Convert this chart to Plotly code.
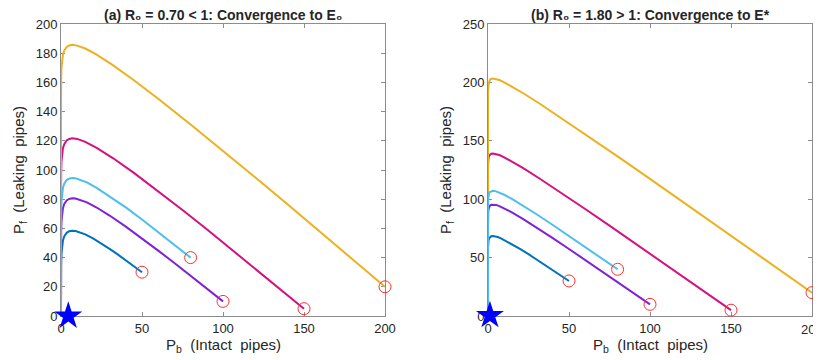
import plotly.graph_objects as go

# ---------------- data ----------------
# Panel (a): R0 = 0.70 < 1
a_blue_x = [50, 45, 40, 35, 30, 25, 20, 15, 12, 9, 7, 5, 3.5, 2, 1.2, 0.6, 0.3, 0.1, 0.03, 0.005, 0]
a_blue_y = [30, 34.2, 38.2, 42.2, 46.0, 49.6, 53.0, 55.9, 57.25, 58.2, 58.4, 58.0, 57.0, 54.5, 51.7, 47.4, 42.9, 35.4, 27.1, 12, 0]

a_purple_x = [100, 90, 80, 70, 60, 50, 40, 30, 22, 16, 12, 9, 7, 5, 3.5, 2, 1.2, 0.6, 0.3, 0.1, 0.03, 0.005, 0]
a_purple_y = [10, 18.9, 27.6, 36.3, 44.8, 53.2, 61.2, 68.8, 74.3, 77.8, 79.6, 80.5, 80.7, 80.2, 79.2, 76.7, 73.9, 69.6, 65.0, 57.6, 49.2, 35, 0]

a_magenta_x = [150, 135, 120, 105, 90, 75, 60, 45, 32, 22, 15, 10, 7, 5, 3.5, 2, 1.2, 0.6, 0.3, 0.1, 0.03, 0.005, 0]
a_magenta_y = [5, 18.75, 32.4, 46.0, 59.4, 72.6, 85.5, 98.0, 108.2, 115.2, 119.3, 121.3, 121.7, 121.3, 120.2, 117.75, 114.9, 110.7, 106.1, 98.6, 90.2, 77.7, 0]

a_yellow_x = [200, 180, 160, 140, 120, 100, 80, 60, 45, 32, 22, 15, 10, 7, 5, 3.5, 2, 1.2, 0.6, 0.3, 0.1, 0.03, 0.005, 0]
a_yellow_y = [20, 38.9, 57.6, 76.3, 94.8, 113.2, 131.2, 148.8, 161.5, 171.8, 179.0, 183.2, 185.2, 185.7, 185.3, 184.3, 181.8, 179.0, 174.7, 170.2, 162.7, 154.3, 141.8, 0]

a_cyan_x = [80, 70, 60, 50, 40, 30, 22, 16, 12, 9, 7, 5, 3.5, 2, 1.2, 0.6, 0.3, 0.1, 0.03, 0.005, 0]
a_cyan_y = [40, 48.9, 57.6, 66.1, 74.4, 82.1, 87.8, 91.5, 93.4, 94.3, 94.5, 94.1, 93.1, 90.6, 87.8, 83.6, 79.0, 71.5, 63.2, 50.6, 0]

a_start_x = [50, 100, 150, 200, 80]
a_start_y = [30, 10, 5, 20, 40]
a_eq_x = [4.5]
a_eq_y = [0]

# Panel (b): R0 = 1.80 > 1
b_blue_x = [50, 45, 40, 35, 30, 25, 20, 15, 11, 8, 6, 4.5, 3, 2, 1.2, 0.7, 0.35, 0.15, 0.05, 0.01, 0.001, 0]
b_blue_y = [30, 34.7, 39.3, 43.9, 48.5, 52.9, 57.25, 61.4, 64.5, 66.5, 67.6, 68.3, 68.56, 68.3, 67.6, 66.5, 64.8, 62.4, 59.2, 54.4, 47.6, 0]

b_purple_x = [100, 90, 80, 70, 60, 50, 40, 30, 22, 15, 10, 7, 5, 3, 2, 1.2, 0.7, 0.35, 0.15, 0.05, 0.01, 0.001, 0]
b_purple_y = [10, 19.6, 29.1, 38.6, 48.1, 57.4, 66.65, 75.7, 82.7, 88.5, 92.2, 94.1, 95.1, 95.5, 95.3, 94.5, 93.4, 91.7, 89.3, 86.15, 81.4, 74.5, 0]

b_magenta_x = [150, 135, 120, 105, 90, 75, 60, 45, 32, 22, 15, 10, 7, 5, 3, 2, 1.2, 0.7, 0.35, 0.15, 0.05, 0.01, 0.001, 0]
b_magenta_y = [5, 19.6, 34.1, 48.6, 63.05, 77.4, 91.6, 105.7, 117.5, 126.3, 132.1, 135.9, 137.8, 138.8, 139.2, 139.0, 138.3, 137.15, 135.4, 133.1, 129.9, 125.1, 118.2, 0]

b_yellow_x = [200, 180, 160, 140, 120, 100, 80, 60, 45, 32, 22, 15, 10, 7, 5, 3, 2, 1.2, 0.7, 0.35, 0.15, 0.05, 0.01, 0.001, 0]
b_yellow_y = [20, 39.6, 59.1, 78.6, 98.1, 117.4, 136.65, 155.7, 169.7, 181.7, 190.5, 196.3, 200.1, 202.0, 203.0, 203.4, 203.2, 202.4, 200.3, 198.6, 196.25, 193.1, 188.3, 181.4, 0]

b_cyan_x = [80, 70, 60, 50, 40, 30, 22, 15, 10, 7, 5, 3, 2, 1.2, 0.7, 0.35, 0.15, 0.05, 0.01, 0.001, 0]
b_cyan_y = [40, 49.6, 59.1, 68.6, 77.9, 87.1, 94.1, 100.0, 103.8, 105.7, 106.7, 107.15, 106.9, 106.2, 105.1, 103.35, 101.0, 97.8, 93.0, 86.1, 0]

b_start_x = [50, 100, 150, 200, 80]
b_start_y = [30, 10, 5, 20, 40]
b_eq_x = [1.2]
b_eq_y = [0.5]

x_ticks = [0, 50, 100, 150, 200]
a_y_ticks = [0, 20, 40, 60, 80, 100, 120, 140, 160, 180, 200]
b_y_ticks = [0, 50, 100, 150, 200, 250]

titles = ["(a) R₀ = 0.70 < 1: Convergence to E₀", "(b) R₀ = 1.80 > 1: Convergence to E*"]
x_label = "P<sub>b</sub>  (Intact  pipes)"
y_label = "P<sub>f</sub>  (Leaking  pipes)"

c_blue = "#0072BD"
c_purple = "#7E22D8"
c_magenta = "#D4117F"
c_yellow = "#EDB120"
c_cyan = "#4DBEEE"

# ---------------- figure ----------------
fig = go.Figure()

panels = [
    ("x", "y", [(a_blue_x, a_blue_y, c_blue), (a_purple_x, a_purple_y, c_purple),
                (a_magenta_x, a_magenta_y, c_magenta), (a_yellow_x, a_yellow_y, c_yellow),
                (a_cyan_x, a_cyan_y, c_cyan)], a_start_x, a_start_y, a_eq_x, a_eq_y),
    ("x2", "y2", [(b_blue_x, b_blue_y, c_blue), (b_purple_x, b_purple_y, c_purple),
                  (b_magenta_x, b_magenta_y, c_magenta), (b_yellow_x, b_yellow_y, c_yellow),
                  (b_cyan_x, b_cyan_y, c_cyan)], b_start_x, b_start_y, b_eq_x, b_eq_y),
]

for xa, ya, curves, sx, sy, ex, ey in panels:
    for cx, cy, col in curves:
        fig.add_trace(go.Scatter(x=cx, y=cy, mode="lines", xaxis=xa, yaxis=ya,
                                 line=dict(color=col, width=2), showlegend=False,
                                 hoverinfo="skip"))
    fig.add_trace(go.Scatter(x=sx, y=sy, mode="markers", xaxis=xa, yaxis=ya,
                             marker=dict(symbol="circle-open", size=12,
                                         color="#FF3030", line=dict(width=1)),
                             showlegend=False, cliponaxis=False, hoverinfo="skip"))
    fig.add_trace(go.Scatter(x=ex, y=ey, mode="markers", xaxis=xa, yaxis=ya,
                             marker=dict(symbol="star", size=21, color="#0000FF",
                                         line=dict(width=0)),
                             showlegend=False, cliponaxis=False, hoverinfo="skip"))

# The page body has an 8px margin; figure pixel = page pixel - 8
OFF = 8
W, H = 821 - OFF, 360 - OFF


def fx(p):
    return (p - OFF) / W


def fy(p):
    return 1 - (p - OFF) / H


tick_font = dict(family="Liberation Sans, Arial", size=13, color="#262626")
axis_common = dict(showgrid=False, zeroline=False, showline=True, linecolor="#8C8C8C",
                   linewidth=1, mirror="ticks", ticks="inside", ticklen=4,
                   tickcolor="#8C8C8C", tickfont=tick_font,
                   layer="below traces", automargin=False)

yd = [fy(316), fy(24)]
fig.update_layout(
    width=W, height=H, margin=dict(l=0, r=0, t=0, b=0, autoexpand=False),
    paper_bgcolor="white", plot_bgcolor="white",
    xaxis=dict(domain=[fx(61), fx(385)], range=[0, 200], tickvals=x_ticks, anchor="y", **axis_common),
    yaxis=dict(domain=yd, range=[0, 200], tickvals=a_y_ticks, anchor="x", **axis_common),
    xaxis2=dict(domain=[fx(488), fx(812)], range=[0, 200], tickvals=x_ticks, anchor="y2", **axis_common),
    yaxis2=dict(domain=yd, range=[0, 250], tickvals=b_y_ticks, anchor="x2", **axis_common),
)

# last tick label of panel (b) sits at the page edge; plotly drops it, so draw it as text
fig.add_annotation(x=x_ticks[-1], xref="x2", y=fy(329), yref="paper", text=str(x_ticks[-1]),
                   showarrow=False, font=tick_font, xanchor="center", yanchor="middle")

font_t = dict(family="Liberation Sans, Arial", size=14, color="#262626")
font_l = dict(family="Liberation Sans, Arial", size=15, color="#262626")
for i, (x0, x1) in enumerate([(61, 385), (488, 812)]):
    cxp = (x0 + x1) / 2
    fig.add_annotation(x=fx(cxp), y=fy(15), xref="paper", yref="paper", text="<b>" + titles[i] + "</b>",
                       showarrow=False, font=font_t, xanchor="center", yanchor="middle")
    fig.add_annotation(x=fx(cxp), y=fy(345), xref="paper", yref="paper", text=x_label,
                       showarrow=False, font=font_l, xanchor="center", yanchor="middle")
    fig.add_annotation(x=fx(19 if i == 0 else 446), y=fy(170), xref="paper", yref="paper",
                       text=y_label, textangle=-90, showarrow=False, font=font_l,
                       xanchor="center", yanchor="middle")

fig.write_html("out.html")
